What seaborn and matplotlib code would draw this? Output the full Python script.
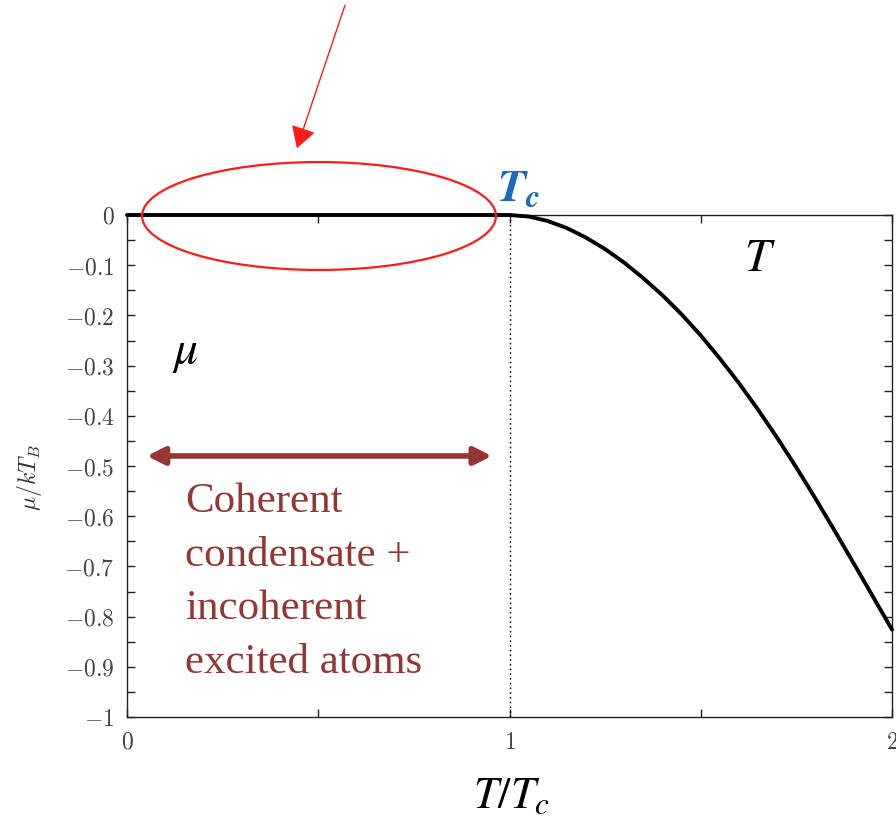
import numpy as np
import pandas as pd
import matplotlib
matplotlib.use("Agg")
import matplotlib.pyplot as plt
import matplotlib.patheffects as pe
from matplotlib.patches import Ellipse
from matplotlib.ticker import MultipleLocator, FixedLocator
import seaborn as sns

# Reduced temperature and chemical potential mu/kT_B
t_ratio = [0.0, 0.5, 1.0, 1.05, 1.1, 1.15, 1.2, 1.25, 1.3, 1.35, 1.4, 1.45,
           1.5, 1.55, 1.6, 1.65, 1.7, 1.75, 1.8, 1.85, 1.9, 1.95, 2.0]
mu_ratio = [0.0, 0.0, 0.0, -0.003, -0.012, -0.026, -0.045, -0.068, -0.095,
            -0.126, -0.160, -0.198, -0.240, -0.286, -0.335, -0.388, -0.444,
            -0.503, -0.565, -0.629, -0.694, -0.760, -0.826]

x_ticks = [0, 1, 2]
x_tick_labels = ["0", "1", "2"]
y_ticks = [0, -0.1, -0.2, -0.3, -0.4, -0.5, -0.6, -0.7, -0.8, -0.9, -1]
y_tick_labels = ["0", "-0.1", "-0.2", "-0.3", "-0.4", "-0.5", "-0.6",
                 "-0.7", "-0.8", "-0.9", "-1"]
region_text = ["Coherent", "condensate +", "incoherent", "excited atoms"]

df = pd.DataFrame({"T/Tc": t_ratio, "mu": mu_ratio})

sns.set_theme(style="white")
plt.rcParams["font.family"] = ["DejaVu Serif", "DejaVu Sans"]
plt.rcParams["mathtext.fontset"] = "cm"

fig = plt.figure(figsize=(8.96, 8.25), dpi=100)
ax = fig.add_axes([127 / 896, 1 - 717 / 825, (892 - 127) / 896, (717 - 215) / 825])

sns.lineplot(data=df, x="T/Tc", y="mu", ax=ax, color="black", linewidth=2.8,
             clip_on=False, zorder=5, solid_joinstyle="round")

ax.set_xlim(0, 2)
ax.set_ylim(-1, 0)
ax.axvline(1.0, color="black", linestyle=(0, (1.2, 2.2)), linewidth=1.0)

# Frame and ticks
for sp in ax.spines.values():
    sp.set_color("#222222")
    sp.set_linewidth(1.0)
ax.xaxis.set_major_locator(FixedLocator(x_ticks))
ax.xaxis.set_minor_locator(FixedLocator([0.5, 1.5]))
ax.yaxis.set_major_locator(FixedLocator(y_ticks))
ax.yaxis.set_minor_locator(MultipleLocator(0.05))
ax.set_xticklabels([rf"${s}$" for s in x_tick_labels])
ax.set_yticklabels([rf"${s}$" for s in y_tick_labels])
ax.tick_params(which="both", direction="in", top=True, right=True,
               bottom=True, left=True, length=6, width=1.0, color="#222222")
ax.tick_params(axis="y", which="major", labelsize=17, labelcolor="#444444", pad=9)
ax.tick_params(axis="x", which="major", labelsize=17, labelcolor="#444444", pad=10)
ax.set_xlabel("")
ax.set_ylabel("")

# Axis titles
fig.text(30 / 896, 1 - 478 / 825, r"$\mu/kT_B$", rotation=90, fontsize=17,
         color="#333333", ha="center", va="center")
fig.text(512 / 896, 1 - 808 / 825, r"$T/T_c$", fontsize=32, color="black",
         ha="center", va="baseline", math_fontfamily="stix")

# Critical temperature label
ax.text(1.025, 0.028, r"$\mathbfit{T}_{\mathbfit{c}}$", fontsize=33,
        color="#1a6bb5", ha="center", va="baseline", math_fontfamily="stix",
        clip_on=False)

# Inline symbols
ax.text(1.655, -0.086, r"$T$", fontsize=34, color="black", ha="center",
        va="center", math_fontfamily="stix")
ax.text(0.152, -0.273, r"$\mu$", fontsize=34, color="black", ha="center",
        va="center", math_fontfamily="stix")

# Highlight of the flat region below T_c
ell = Ellipse((0.502, -0.002), 0.925, 0.215, fill=False, edgecolor="#ff1a1a",
              linewidth=1.6, clip_on=False, zorder=6)
ax.add_patch(ell)
ax.annotate("", xy=(0.444, 0.133), xytext=(0.570, 0.418),
            xycoords="data", textcoords="data", annotation_clip=False,
            arrowprops=dict(arrowstyle="-|>,head_length=0.6,head_width=0.35",
                            color="#ff1a1a", lw=1.0,
                            mutation_scale=22, shrinkA=0, shrinkB=0))

# Condensed-phase range
dark_red = "#943634"
ax.annotate("", xy=(0.954, -0.48), xytext=(0.052, -0.48),
            xycoords="data", textcoords="data",
            arrowprops=dict(arrowstyle="<|-|>", color=dark_red, lw=4.0,
                            mutation_scale=26, shrinkA=0, shrinkB=0,
                            path_effects=[pe.SimplePatchShadow(offset=(1.5, -1.5),
                                                               alpha=0.25),
                                          pe.Normal()]))
for i, line in enumerate(region_text):
    ax.text(0.152, -0.592 - i * 0.1065, line, fontsize=31, color=dark_red,
            family="Liberation Serif", ha="left", va="baseline")

fig.savefig("out.png", dpi=100)
